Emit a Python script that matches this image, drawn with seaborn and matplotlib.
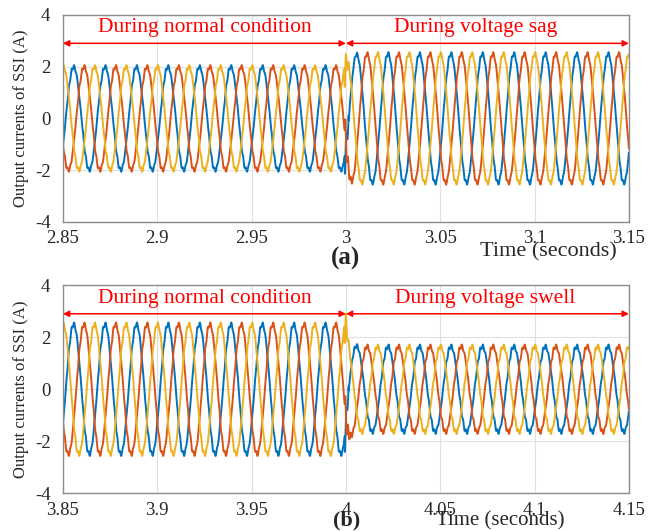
import numpy as np
import pandas as pd
import seaborn as sns
import matplotlib.pyplot as plt

# waveform parameters
freq = 60.0                       # Hz
peak_frac = [0.34, 0.34 + 1/3, 0.34 - 1/3]   # peak position (cycles) of phase a, b, c
phases = ['a', 'b', 'c']
palette = {'a': '#0072BD', 'b': '#D95319', 'c': '#EDB120'}

windows = [(2.85, 3.15), (3.85, 4.15)]
switch_times = [3.0, 4.0]
amp_before = [2.0, 2.5]
amp_after = [2.5, 1.65]
spike = [0.8, 0.7]
ripple = [0.05, 0.06]
xticks = [[2.85, 2.9, 2.95, 3, 3.05, 3.1, 3.15], [3.85, 3.9, 3.95, 4, 4.05, 4.1, 4.15]]
xticklabels = [['2.85', '2.9', '2.95', '3', '3.05', '3.1', '3.15'],
               ['3.85', '3.9', '3.95', '4', '4.05', '4.1', '4.15']]
yticks = [-4, -2, 0, 2, 4]
left_text = 'During normal condition'
right_text = ['During voltage sag', 'During voltage swell']
right_text_offset = [0.069, 0.074]
panel_tags = ['(a)', '(b)']


def build_frame(k):
    t0, t1 = windows[k]
    ts = switch_times[k]
    t = np.arange(t0, t1 + 1e-6, 2e-5)
    amp = np.where(t < ts, amp_before[k],
                   amp_after[k] + (amp_before[k] - amp_after[k]) * np.exp(-np.clip(t - ts, 0, None) / 0.0015))
    bump = np.where(t >= ts - 0.0006, np.exp(-np.clip(t - ts + 0.0006, 0, None) / 0.0012), 0.0)
    rows = []
    for ph, pf in zip(phases, peak_frac):
        ang = 2 * np.pi * (freq * t - pf)
        y = amp * np.cos(ang)
        y += ripple[k] * np.sin(11 * ang) + 0.03 * np.sin(13 * ang + 1.0)
        y += spike[k] * bump * np.cos(2 * np.pi * 700 * (t - ts) + pf * 2 * np.pi) * np.sign(np.cos(ang))
        rows.append(pd.DataFrame({'Time': t, 'Current': y, 'Phase': ph}))
    return pd.concat(rows, ignore_index=True)


sns.set_theme(style='whitegrid')
plt.rcParams['font.family'] = ['Liberation Serif', 'DejaVu Serif']

fig = plt.figure(figsize=(6.49, 5.31), dpi=100)
axes_pos = [[0.097, 0.582, 0.872, 0.390], [0.097, 0.071, 0.872, 0.392]]

for k in range(2):
    ax = fig.add_axes(axes_pos[k])
    df = build_frame(k)
    sns.lineplot(data=df, x='Time', y='Current', hue='Phase', palette=palette,
                 estimator=None, sort=False, legend=False, lw=1.4, ax=ax)
    ax.set_xlim(*windows[k])
    ax.set_ylim(-4, 4)
    ax.set_xticks(xticks[k])
    ax.set_xticklabels(xticklabels[k])
    ax.set_yticks(yticks)
    ax.set_yticklabels([str(v) for v in yticks])
    ax.tick_params(labelsize=13.5, colors='#262626')
    ax.tick_params(axis='x', pad=0)
    ax.tick_params(axis='y', pad=3)
    ax.set_xlabel('')
    ax.set_ylabel('Output currents of SSI (A)', fontsize=12, labelpad=4)
    ax.set_facecolor('white')
    ax.grid(True, color='#e0e0e0', lw=0.8)
    for s in ax.spines.values():
        s.set_color('#8c8c8c')
        s.set_linewidth(1.0)

    ts = switch_times[k]
    t0, t1 = windows[k]
    arrow = dict(arrowstyle='<|-|>', color='red', lw=1.1, mutation_scale=9, shrinkA=0, shrinkB=0)
    ax.annotate('', xy=(t0, 2.9), xytext=(ts, 2.9), arrowprops=arrow)
    ax.annotate('', xy=(ts, 2.9), xytext=(t1, 2.9), arrowprops=arrow)
    ax.text(t0 + 0.0753, 3.5, left_text, color='red', fontsize=15.5, ha='center', va='center')
    ax.text(ts + right_text_offset[k], 3.5, right_text[k], color='red', fontsize=15.5,
            ha='center', va='center')

fig.text(548 / 649, 1 - 252 / 531, 'Time (seconds)', fontsize=16, ha='center', va='center')
fig.text(346 / 649, 1 - 258 / 531, panel_tags[0], fontsize=18, fontweight='bold', ha='center', va='center')
fig.text(500 / 649, 1 - 521 / 531, 'Time (seconds)', fontsize=15, ha='center', va='center')
fig.text(347 / 649, 1 - 520 / 531, panel_tags[1], fontsize=16, fontweight='bold', ha='center', va='center')

fig.savefig('out.png', dpi=100, facecolor='white')
